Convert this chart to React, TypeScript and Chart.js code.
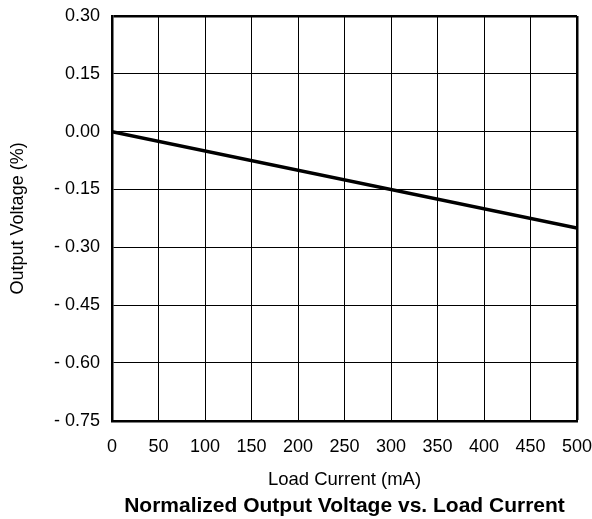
import React, { useEffect, useRef } from "react";
import { Chart, registerables } from "chart.js";

Chart.register(...registerables);

const loadCurrent = [0, 500];
const outputVoltage = [0, -0.25];
const xTicks = [0, 50, 100, 150, 200, 250, 300, 350, 400, 450, 500];
const yTicks = [-0.75, -0.6, -0.45, -0.3, -0.15, 0, 0.15, 0.3];
const xTitle = "Load Current (mA)";
const yTitle = "Output Voltage (%)";
const chartTitle = "Normalized Output Voltage vs. Load Current";

const FONT = "'Liberation Sans', Arial, Helvetica, sans-serif";

export default function App() {
  const ref = useRef<HTMLCanvasElement>(null);
  useEffect(() => {
    if (!ref.current) return;
    const chart = new Chart(ref.current, {
      type: "line",
      data: {
        datasets: [
          {
            data: loadCurrent.map((x, i) => ({ x, y: outputVoltage[i] })),
            borderColor: "#000",
            borderWidth: 3.5,
            pointRadius: 0,
            fill: false,
          },
        ],
      },
      options: {
        animation: false,
        responsive: false,
        layout: { padding: { top: 16, right: 15, left: 0, bottom: 0 } },
        plugins: {
          legend: { display: false },
          tooltip: { enabled: false },
          title: {
            display: true,
            fullSize: false,
            text: chartTitle,
            position: "bottom",
            color: "#000",
            font: { family: FONT, size: 21, weight: "bold", lineHeight: 1.2 },
            padding: { top: 3, bottom: 0 },
          },
        },
        scales: {
          x: {
            type: "linear",
            min: 0,
            max: 500,
            afterBuildTicks: (s: any) => {
              s.ticks = xTicks.map((v) => ({ value: v }));
            },
            afterFit: (s: any) => {
              s.height = 70;
              s.paddingLeft = 0;
              s.paddingRight = 0;
            },
            ticks: {
              color: "#000",
              font: { family: FONT, size: 18 },
              padding: 15,
              maxRotation: 0,
              autoSkip: false,
              callback: (v: any) => String(v),
            },
            grid: {
              color: "#000",
              lineWidth: (c: any) => (c.index === xTicks.length - 1 ? 2.5 : 1),
              drawTicks: false,
            },
            border: { color: "#000", width: 2.5 },
            title: {
              display: true,
              text: xTitle,
              color: "#000",
              font: { family: FONT, size: 18.5 },
              padding: { top: 0, bottom: 0 },
            },
          },
          y: {
            type: "linear",
            min: -0.75,
            max: 0.3,
            afterBuildTicks: (s: any) => {
              s.ticks = yTicks.map((v) => ({ value: v }));
            },
            afterFit: (s: any) => {
              s.width = 112;
              s.paddingTop = 0;
              s.paddingBottom = 0;
            },
            ticks: {
              color: "#000",
              font: { family: FONT, size: 18 },
              padding: 12,
              autoSkip: false,
              callback: (v: any) => {
                const n = Number(v);
                return n < -1e-9 ? "- " + Math.abs(n).toFixed(2) : Math.abs(n).toFixed(2);
              },
            },
            grid: {
              color: "#000",
              lineWidth: (c: any) => (c.index === yTicks.length - 1 ? 2.5 : 1),
              drawTicks: false,
            },
            border: { color: "#000", width: 2.5 },
            title: {
              display: true,
              text: yTitle,
              color: "#000",
              font: { family: FONT, size: 18 },
              padding: { top: 7, bottom: 0 },
            },
          },
        },
      },
    });
    return () => chart.destroy();
  }, []);
  return (
    <div style={{ position: "fixed", left: 0, top: 0, width: 592, height: 519, background: "#fff" }}>
      <canvas ref={ref} width={592} height={519} style={{ width: 592, height: 519, display: "block" }} />
    </div>
  );
}
